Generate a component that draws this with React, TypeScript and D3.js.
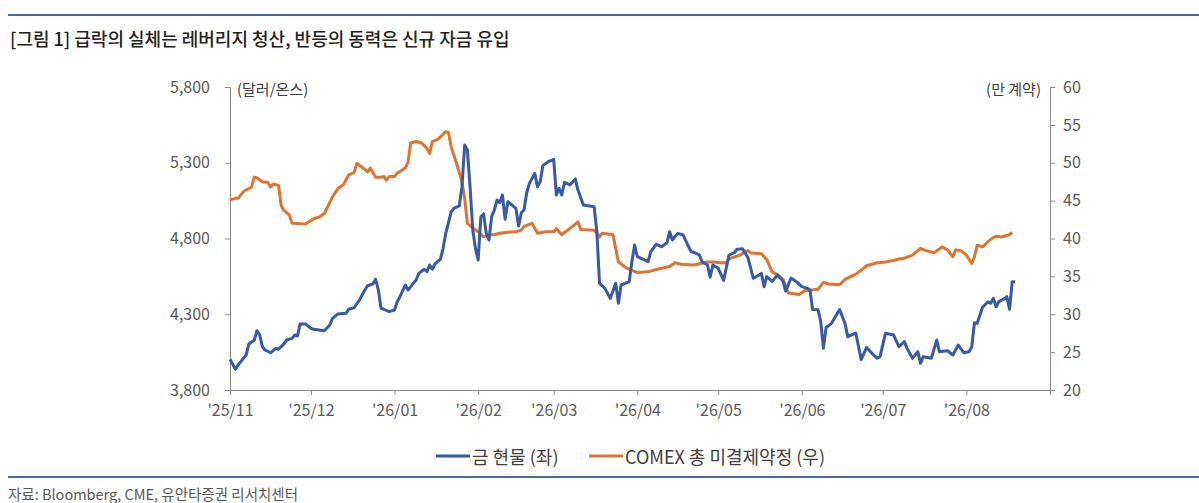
import { useRef, useEffect } from "react";
import * as d3 from "d3";

// month ticks on the x axis (last one closes the axis, no label)
const monthTicks = [
  "2025-11-01", "2025-12-01", "2026-01-01", "2026-02-01", "2026-03-01", "2026-04-01",
  "2026-05-01", "2026-06-01", "2026-07-01", "2026-08-01", "2026-09-01",
];
const monthLabels = [
  "'25/11", "'25/12", "'26/01", "'26/02", "'26/03", "'26/04", "'26/05", "'26/06", "'26/07", "'26/08", "",
];
const leftTicks = [3800, 4300, 4800, 5300, 5800];
const rightTicks = [20, 25, 30, 35, 40, 45, 50, 55, 60];

// 금 현물 (달러/온스)
const goldDates = [
  "2025-11-01", "2025-11-03", "2025-11-04", "2025-11-05", "2025-11-07", "2025-11-08", "2025-11-10", "2025-11-11",
  "2025-11-12", "2025-11-13", "2025-11-14", "2025-11-16", "2025-11-18", "2025-11-19", "2025-11-21", "2025-11-22",
  "2025-11-24", "2025-11-25", "2025-11-26", "2025-11-27", "2025-11-29", "2025-12-01", "2025-12-02", "2025-12-04",
  "2025-12-06", "2025-12-08", "2025-12-09", "2025-12-11", "2025-12-14", "2025-12-15", "2025-12-17", "2025-12-19",
  "2025-12-21", "2025-12-22", "2025-12-24", "2025-12-25", "2025-12-26", "2025-12-27", "2025-12-28", "2025-12-30",
  "2026-01-01", "2026-01-02", "2026-01-03", "2026-01-05", "2026-01-06", "2026-01-07", "2026-01-09", "2026-01-10",
  "2026-01-12", "2026-01-13", "2026-01-14", "2026-01-15", "2026-01-16", "2026-01-18", "2026-01-19", "2026-01-20",
  "2026-01-22", "2026-01-23", "2026-01-25", "2026-01-26", "2026-01-27", "2026-01-28", "2026-01-29", "2026-01-30",
  "2026-01-31", "2026-02-01", "2026-02-02", "2026-02-03", "2026-02-04", "2026-02-05", "2026-02-06", "2026-02-07",
  "2026-02-08", "2026-02-09", "2026-02-10", "2026-02-11", "2026-02-12", "2026-02-13", "2026-02-15", "2026-02-16",
  "2026-02-17", "2026-02-18", "2026-02-19", "2026-02-20", "2026-02-22", "2026-02-23", "2026-02-24", "2026-02-25",
  "2026-02-27", "2026-03-01", "2026-03-02", "2026-03-03", "2026-03-04", "2026-03-05", "2026-03-07", "2026-03-09",
  "2026-03-10", "2026-03-12", "2026-03-16", "2026-03-17", "2026-03-18", "2026-03-20", "2026-03-22", "2026-03-24",
  "2026-03-25", "2026-03-26", "2026-03-29", "2026-03-30", "2026-03-31", "2026-04-01", "2026-04-05", "2026-04-06",
  "2026-04-08", "2026-04-10", "2026-04-12", "2026-04-13", "2026-04-14", "2026-04-16", "2026-04-18", "2026-04-20",
  "2026-04-21", "2026-04-22", "2026-04-24", "2026-04-25", "2026-04-27", "2026-04-28", "2026-04-29", "2026-05-01",
  "2026-05-03", "2026-05-05", "2026-05-07", "2026-05-08", "2026-05-10", "2026-05-12", "2026-05-14", "2026-05-16",
  "2026-05-17", "2026-05-18", "2026-05-19", "2026-05-21", "2026-05-23", "2026-05-25", "2026-05-26", "2026-05-28",
  "2026-05-30", "2026-06-01", "2026-06-03", "2026-06-04", "2026-06-05", "2026-06-07", "2026-06-08", "2026-06-09",
  "2026-06-10", "2026-06-12", "2026-06-15", "2026-06-17", "2026-06-18", "2026-06-21", "2026-06-23", "2026-06-25",
  "2026-06-27", "2026-06-29", "2026-06-30", "2026-07-02", "2026-07-05", "2026-07-07", "2026-07-09", "2026-07-10",
  "2026-07-12", "2026-07-14", "2026-07-15", "2026-07-16", "2026-07-19", "2026-07-21", "2026-07-22", "2026-07-25",
  "2026-07-27", "2026-07-29", "2026-07-31", "2026-08-02", "2026-08-03", "2026-08-04", "2026-08-05", "2026-08-07",
  "2026-08-09", "2026-08-10", "2026-08-11", "2026-08-12", "2026-08-13", "2026-08-15", "2026-08-16", "2026-08-17",
  "2026-08-18", "2026-08-19",
];
const goldPrice = [
  4003, 3937, 3965, 3987, 4031, 4104, 4130, 4191,
  4163, 4086, 4064, 4046, 4075, 4069, 4104, 4130,
  4141, 4163, 4156, 4236, 4236, 4207, 4201, 4196,
  4191, 4229, 4273, 4302, 4306, 4333, 4343, 4394,
  4460, 4488, 4500, 4531, 4460, 4339, 4333, 4317,
  4328, 4383, 4416, 4493, 4460, 4482, 4526, 4570,
  4597, 4581, 4625, 4597, 4632, 4663, 4735, 4834,
  4977, 4999, 5015, 5142, 5417, 5384, 5142, 4856,
  4735, 4658, 4944, 4962, 4834, 4790, 4944, 4988,
  5054, 5036, 5087, 4927, 5043, 5028, 4999, 4882,
  4970, 4988, 5102, 5164, 5230, 5142, 5175, 5282,
  5307, 5323, 5087, 5131, 5087, 5170, 5153, 5193,
  5120, 5021, 5010, 4845, 4504, 4471, 4405, 4504,
  4372, 4493, 4515, 4647, 4757, 4680, 4647, 4713,
  4762, 4746, 4772, 4845, 4790, 4834, 4823, 4746,
  4713, 4709, 4691, 4647, 4625, 4544, 4625, 4603,
  4523, 4691, 4706, 4729, 4732, 4675, 4537, 4557,
  4570, 4482, 4548, 4517, 4559, 4520, 4453, 4539,
  4515, 4482, 4471, 4460, 4331, 4330, 4252, 4075,
  4213, 4240, 4331, 4240, 4152, 4176, 4001, 4081,
  4042, 4009, 4020, 4174, 4163, 4086, 4119, 4075,
  4009, 4053, 3976, 4020, 4009, 4130, 4053, 4059,
  4031, 4097, 4046, 4053, 4086, 4244, 4240, 4346,
  4383, 4372, 4405, 4350, 4383, 4401, 4416, 4333,
  4515, 4515,
];

// COMEX 총 미결제약정 (만 계약)
const oiDates = [
  "2025-11-01", "2025-11-03", "2025-11-04", "2025-11-06", "2025-11-08", "2025-11-09", "2025-11-10", "2025-11-11",
  "2025-11-13", "2025-11-15", "2025-11-16", "2025-11-17", "2025-11-19", "2025-11-20", "2025-11-21", "2025-11-23",
  "2025-11-24", "2025-11-29", "2025-12-02", "2025-12-04", "2025-12-06", "2025-12-09", "2025-12-11", "2025-12-13",
  "2025-12-15", "2025-12-17", "2025-12-18", "2025-12-20", "2025-12-22", "2025-12-23", "2025-12-25", "2025-12-27",
  "2025-12-28", "2025-12-29", "2025-12-30", "2026-01-01", "2026-01-02", "2026-01-05", "2026-01-06", "2026-01-07",
  "2026-01-09", "2026-01-11", "2026-01-13", "2026-01-14", "2026-01-15", "2026-01-17", "2026-01-18", "2026-01-20",
  "2026-01-21", "2026-01-22", "2026-01-24", "2026-01-26", "2026-01-27", "2026-01-28", "2026-01-30", "2026-02-01",
  "2026-02-03", "2026-02-05", "2026-02-07", "2026-02-09", "2026-02-11", "2026-02-15", "2026-02-17", "2026-02-18",
  "2026-02-21", "2026-02-23", "2026-02-26", "2026-03-01", "2026-03-02", "2026-03-04", "2026-03-08", "2026-03-10",
  "2026-03-11", "2026-03-16", "2026-03-18", "2026-03-19", "2026-03-23", "2026-03-25", "2026-03-28", "2026-04-01",
  "2026-04-05", "2026-04-08", "2026-04-13", "2026-04-15", "2026-04-17", "2026-04-22", "2026-04-27", "2026-04-29",
  "2026-05-02", "2026-05-04", "2026-05-05", "2026-05-09", "2026-05-12", "2026-05-13", "2026-05-17", "2026-05-19",
  "2026-05-21", "2026-05-23", "2026-05-25", "2026-05-27", "2026-05-31", "2026-06-02", "2026-06-07", "2026-06-09",
  "2026-06-11", "2026-06-15", "2026-06-17", "2026-06-21", "2026-06-23", "2026-06-25", "2026-06-29", "2026-07-02",
  "2026-07-05", "2026-07-07", "2026-07-09", "2026-07-12", "2026-07-15", "2026-07-17", "2026-07-20", "2026-07-23",
  "2026-07-25", "2026-07-27", "2026-07-28", "2026-07-30", "2026-08-01", "2026-08-03", "2026-08-04", "2026-08-05",
  "2026-08-07", "2026-08-10", "2026-08-12", "2026-08-14", "2026-08-15", "2026-08-17", "2026-08-18",
];
const oiContracts = [
  45.1, 45.3, 45.3, 46.2, 46.6, 46.8, 48.1, 48.0,
  47.5, 47.4, 46.8, 47.2, 47.0, 44.3, 43.7, 43.1,
  42.0, 41.9, 42.6, 42.8, 43.3, 45.5, 46.6, 47.1,
  48.4, 48.7, 49.9, 49.4, 48.8, 49.3, 48.1, 48.1,
  48.2, 47.7, 48.2, 48.2, 48.6, 49.3, 50.1, 52.6,
  52.8, 52.6, 51.9, 51.2, 52.8, 53.1, 53.4, 54.1,
  54.0, 52.1, 49.9, 47.5, 45.3, 42.0, 41.4, 40.9,
  40.2, 40.5, 40.5, 40.7, 40.8, 40.9, 41.1, 41.6,
  42.0, 40.7, 40.9, 40.9, 41.3, 40.5, 41.6, 42.2,
  41.2, 41.1, 40.2, 40.7, 40.5, 36.9, 36.1, 35.5,
  35.6, 35.9, 36.3, 36.8, 36.6, 36.5, 36.9, 36.9,
  36.8, 36.8, 37.3, 37.8, 38.4, 38.1, 38.0, 37.2,
  35.6, 35.2, 34.6, 32.8, 32.6, 33.1, 33.3, 34.2,
  34.0, 33.9, 34.6, 35.3, 35.8, 36.4, 36.8, 36.9,
  37.1, 37.3, 37.4, 37.8, 38.7, 38.4, 38.1, 38.9,
  38.5, 37.6, 38.5, 38.4, 37.8, 36.7, 37.6, 39.1,
  38.9, 39.9, 40.3, 40.2, 40.3, 40.5, 40.8,
];

const W = 1199;
const H = 503;
const FONT = "'Noto Sans CJK KR', 'Noto Sans', sans-serif";
const BLUE = "#3659a8";
const ORANGE = "#df7330";
const RULE = "#4b6a9f";
const AXIS = "#8a8a8a";
const LABEL = "#595959";

const App = () => {
  const svgRef = useRef<SVGSVGElement | null>(null);

  useEffect(() => {
    if (!svgRef.current) return;
    const svg = d3.select(svgRef.current);
    svg.selectAll("*").remove();

    const parse = d3.timeParse("%Y-%m-%d");
    const left = 230, right = 1050, top = 87, bottom = 390;

    const x = d3
      .scaleTime()
      .domain([parse(monthTicks[0])!, parse(monthTicks[monthTicks.length - 1])!])
      .range([left, right]);
    const yL = d3.scaleLinear().domain([3800, 5800]).range([bottom, top]);
    const yR = d3.scaleLinear().domain([20, 60]).range([bottom, top]);

    // header / footer rules
    svg.append("line").attr("x1", 8).attr("x2", W).attr("y1", 15).attr("y2", 15)
      .attr("stroke", RULE).attr("stroke-width", 2);
    svg.append("line").attr("x1", 8).attr("x2", W).attr("y1", 477).attr("y2", 477)
      .attr("stroke", RULE).attr("stroke-width", 2);

    svg.append("text").attr("x", 10).attr("y", 38)
      .attr("dominant-baseline", "central")
      .style("font-family", FONT).style("font-size", "18px").style("font-weight", 500)
      .style("fill", "#222")
      .text("[그림 1] 급락의 실체는 레버리지 청산, 반등의 동력은 신규 자금 유입");

    svg.append("text").attr("x", 8).attr("y", 493)
      .attr("dominant-baseline", "central")
      .style("font-family", FONT).style("font-size", "14.5px").style("fill", LABEL)
      .text("자료: Bloomberg, CME, 유안타증권 리서치센터");

    const styleAxis = (g: d3.Selection<SVGGElement, unknown, null, undefined>) => {
      g.select(".domain").attr("stroke", AXIS);
      g.selectAll(".tick line").attr("stroke", AXIS);
      g.selectAll(".tick text")
        .style("font-family", FONT).style("font-size", "16px").style("fill", LABEL);
    };

    // x axis
    const xAxis = svg.append("g").attr("transform", `translate(0,${bottom})`)
      .call(
        d3.axisBottom(x)
          .tickValues(monthTicks.map((d) => parse(d)!))
          .tickFormat((_d, i) => monthLabels[i])
          .tickSize(5)
          .tickSizeOuter(0)
          .tickPadding(10)
      );
    styleAxis(xAxis);

    // left axis
    const yLAxis = svg.append("g").attr("transform", `translate(${left},0)`)
      .call(
        d3.axisLeft(yL).tickValues(leftTicks).tickFormat(d3.format(","))
          .tickSize(5).tickSizeOuter(0).tickPadding(15)
      );
    styleAxis(yLAxis);

    // right axis
    const yRAxis = svg.append("g").attr("transform", `translate(${right},0)`)
      .call(
        d3.axisRight(yR).tickValues(rightTicks).tickFormat(d3.format("d"))
          .tickSize(5).tickSizeOuter(0).tickPadding(8)
      );
    styleAxis(yRAxis);

    // unit labels
    svg.append("text").attr("x", 237).attr("y", 88).attr("dominant-baseline", "central")
      .style("font-family", FONT).style("font-size", "15px").style("fill", "#404040")
      .text("(달러/온스)");
    svg.append("text").attr("x", 1041).attr("y", 88).attr("dominant-baseline", "central")
      .attr("text-anchor", "end")
      .style("font-family", FONT).style("font-size", "15px").style("fill", "#404040")
      .text("(만 계약)");

    // series
    const goldLine = d3.line<number>()
      .x((_v, i) => x(parse(goldDates[i])!))
      .y((v) => yL(v));
    const oiLine = d3.line<number>()
      .x((_v, i) => x(parse(oiDates[i])!))
      .y((v) => yR(v));

    svg.append("path").datum(oiContracts).attr("d", oiLine)
      .attr("fill", "none").attr("stroke", ORANGE).attr("stroke-width", 3)
      .attr("stroke-linejoin", "round");
    svg.append("path").datum(goldPrice).attr("d", goldLine)
      .attr("fill", "none").attr("stroke", BLUE).attr("stroke-width", 3)
      .attr("stroke-linejoin", "round");

    // legend
    const legend = [
      { label: "금 현물 (좌)", color: BLUE, x0: 436 },
      { label: "COMEX 총 미결제약정 (우)", color: ORANGE, x0: 589 },
    ];
    const lg = svg.append("g");
    legend.forEach((d) => {
      lg.append("line").attr("x1", d.x0).attr("x2", d.x0 + 34).attr("y1", 456).attr("y2", 456)
        .attr("stroke", d.color).attr("stroke-width", 3);
      lg.append("text").attr("x", d.x0 + 36).attr("y", 456).attr("dominant-baseline", "central")
        .style("font-family", FONT).style("font-size", "18px").style("fill", "#404040")
        .text(d.label);
    });
  }, []);

  return (
    <svg
      ref={svgRef}
      width={W}
      height={H}
      style={{ position: "absolute", left: 0, top: 0, background: "#fff" }}
    />
  );
};

export default App;
